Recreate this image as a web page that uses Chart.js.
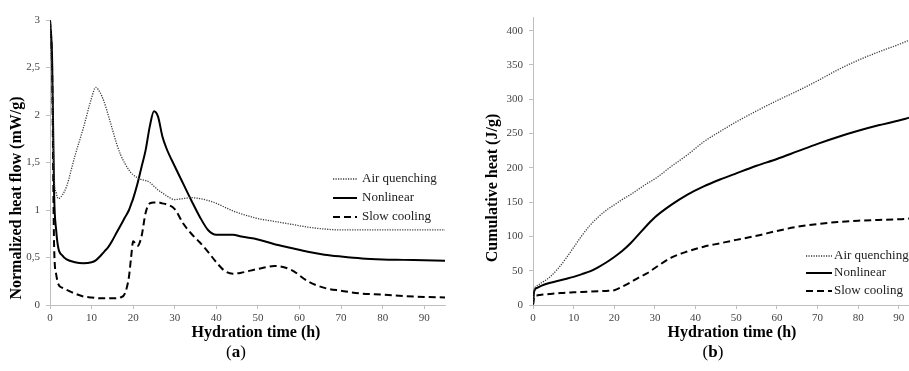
<!DOCTYPE html>
<html>
<head>
<meta charset="utf-8">
<script src="https://cdn.jsdelivr.net/npm/chart.js@4.4.1/dist/chart.umd.min.js"></script>
<style>
  body { margin: 0; background: #fff; }
  #wrap { position: relative; width: 909px; height: 371px; overflow: hidden; }
  #chartA { position: absolute; left: 0; top: 0; }
  #chartB { position: absolute; left: 460px; top: 0; }
</style>
</head>
<body>
<div id="wrap">
  <canvas id="chartA" width="460" height="371"></canvas>
  <canvas id="chartB" width="449" height="371"></canvas>
</div>
<script>
// (a) heat flow, mW/g
const hoursA = [0, 0.5, 1, 1.5, 2, 3, 4, 6, 8, 10, 11, 12, 13, 14, 15, 16, 17, 18, 19, 19.5,
  20, 21, 22, 23, 24, 25, 26, 27, 28, 30, 32, 34, 36, 38, 40, 42, 44, 46, 50, 54,
  58, 62, 66, 70, 75, 80, 85, 90, 95];
const airA = [3, 2.3, 1.35, 1.18, 1.12, 1.16, 1.25, 1.57, 1.86, 2.18, 2.29, 2.24, 2.14, 2.0, 1.85, 1.7, 1.58, 1.49, 1.42, 1.39,
  1.37, 1.34, 1.32, 1.31, 1.29, 1.25, 1.21, 1.18, 1.15, 1.11, 1.12, 1.13, 1.12, 1.1, 1.07, 1.03, 0.99, 0.96, 0.91, 0.88,
  0.85, 0.82, 0.8, 0.79, 0.79, 0.79, 0.79, 0.79, 0.79];
const nonlinA = [3, 2.6, 1.15, 0.78, 0.6, 0.52, 0.48, 0.45, 0.44, 0.45, 0.47, 0.51, 0.56, 0.61, 0.68, 0.76, 0.84, 0.92, 1.0, 1.06,
  1.12, 1.27, 1.45, 1.63, 1.88, 2.04, 1.98, 1.78, 1.65, 1.46, 1.28, 1.1, 0.93, 0.79, 0.74, 0.74, 0.74, 0.72, 0.69, 0.64,
  0.6, 0.56, 0.53, 0.51, 0.49, 0.48, 0.475, 0.47, 0.465];
const slowA = [3, 2.5, 0.6, 0.32, 0.22, 0.18, 0.16, 0.12, 0.09, 0.08, 0.075, 0.07, 0.07, 0.07, 0.07, 0.07, 0.08, 0.12, 0.3, 0.5,
  0.67, 0.62, 0.72, 0.97, 1.07, 1.08, 1.08, 1.07, 1.06, 1.01, 0.86, 0.75, 0.66, 0.56, 0.45, 0.36, 0.33, 0.34, 0.38, 0.41,
  0.37, 0.25, 0.18, 0.15, 0.12, 0.11, 0.095, 0.085, 0.08];

// (b) cumulative heat, J/g
const hoursB = [0, 0.3, 1, 2, 4, 6, 8, 10, 12, 14, 16, 18, 20, 22, 24, 26, 28, 30, 34, 38,
  42, 46, 50, 55, 60, 65, 70, 75, 80, 85, 90, 92.5];
const airB = [0, 22, 28, 32, 40, 52, 67, 84, 101, 116, 128, 138, 146, 154, 161, 169, 177, 184, 202, 219,
  238, 253, 267, 283, 298, 312, 327, 343, 357, 369, 380, 386];
const nonlinB = [0, 20, 25, 28, 32, 35, 38, 41, 45, 49, 55, 62, 70, 79, 90, 103, 116, 128, 146, 161,
  173, 183, 192, 203, 213, 224, 235, 245, 254, 262, 269, 273];
const slowB = [0, 12, 14, 15, 16, 17, 18, 18.5, 19, 19.5, 20, 20.5, 21.5, 27, 33, 40, 46, 54, 69, 78,
  85, 90, 95, 101, 108, 114, 118, 121, 123, 124, 125, 126];

const seriesNames = ['Air quenching', 'Nonlinear', 'Slow cooling'];

Chart.defaults.font.family = "'Liberation Serif', serif";
const axisGray = '#bfbfbf';
const tickColor = '#444';

function pts(xs, ys) {
  return xs.map((x, i) => ({ x: x, y: ys[i] }));
}

function makeSets(xs, a, n, s) {
  return [
    { label: seriesNames[0], data: pts(xs, a), borderColor: '#3a3a3a', borderWidth: 1.3, borderDash: [1.2, 1.3] },
    { label: seriesNames[1], data: pts(xs, n), borderColor: '#000', borderWidth: 2 },
    { label: seriesNames[2], data: pts(xs, s), borderColor: '#000', borderWidth: 2, borderDash: [7, 4] }
  ].map(d => Object.assign(d, { pointRadius: 0, fill: false, cubicInterpolationMode: 'monotone' }));
}

// titles, legend and panel letter drawn on top
const figText = {
  id: 'figText',
  afterDraw(chart, args, o) {
    const ctx = chart.ctx;
    ctx.save();
    ctx.fillStyle = '#000';
    ctx.textBaseline = 'middle';

    // x title
    ctx.font = "bold 16px 'Liberation Serif'";
    ctx.textAlign = 'center';
    ctx.fillText('Hydration time (h)', o.xTitle[0], o.xTitle[1]);

    // y title
    ctx.save();
    ctx.translate(o.yTitle[0], o.yTitle[1]);
    ctx.rotate(-Math.PI / 2);
    ctx.fillText(o.yText, 0, 0);
    ctx.restore();

    // legend
    ctx.textAlign = 'left';
    ctx.font = "13px 'Liberation Serif'";
    chart.data.datasets.forEach((ds, i) => {
      const y = o.legY[i];
      ctx.save();
      ctx.strokeStyle = ds.borderColor;
      ctx.lineWidth = ds.borderWidth;
      ctx.setLineDash(ds.borderDash || []);
      ctx.beginPath();
      ctx.moveTo(o.legX[0], y);
      ctx.lineTo(o.legX[1], y);
      ctx.stroke();
      ctx.restore();
      ctx.fillStyle = '#222';
      ctx.fillText(ds.label, o.legX[2], y);
    });

    // panel letter "(a)" with bold letter
    ctx.fillStyle = '#000';
    const p1 = '(', p2 = o.letter, p3 = ')';
    ctx.font = "17px 'Liberation Serif'";
    const w1 = ctx.measureText(p1).width, w3 = ctx.measureText(p3).width;
    ctx.font = "bold 17px 'Liberation Serif'";
    const w2 = ctx.measureText(p2).width;
    let x = o.panel[0] - (w1 + w2 + w3) / 2;
    ctx.font = "17px 'Liberation Serif'";
    ctx.fillText(p1, x, o.panel[1]);
    ctx.font = "bold 17px 'Liberation Serif'";
    ctx.fillText(p2, x + w1, o.panel[1]);
    ctx.font = "17px 'Liberation Serif'";
    ctx.fillText(p3, x + w1 + w2, o.panel[1]);
    ctx.restore();
  }
};

function axisX(max) {
  return {
    type: 'linear', min: 0, max: max,
    afterBuildTicks: s => { s.ticks = s.ticks.filter(t => t.value % 10 === 0); },
    afterFit: s => { s.height = 66; },
    ticks: { stepSize: 10, includeBounds: false, color: tickColor, font: { size: 11 }, padding: 3, maxRotation: 0, autoSkip: false },
    grid: { drawOnChartArea: false, tickLength: 4, color: axisGray },
    border: { color: axisGray }
  };
}

function axisY(max, step, width, fmt) {
  return {
    min: 0, max: max,
    afterBuildTicks: s => { s.ticks = s.ticks.filter(t => Math.abs(t.value / step - Math.round(t.value / step)) < 1e-6); },
    afterFit: s => { s.width = width; },
    ticks: { stepSize: step, includeBounds: false, color: tickColor, font: { size: 11 }, padding: 6, callback: fmt },
    grid: { drawOnChartArea: false, tickLength: 4, color: axisGray },
    border: { color: axisGray }
  };
}

new Chart(document.getElementById('chartA'), {
  type: 'line',
  data: { datasets: makeSets(hoursA, airA, nonlinA, slowA) },
  options: {
    responsive: false,
    animation: false,
    layout: { padding: { left: 0, right: 15, top: 20, bottom: 0 } },
    plugins: {
      legend: { display: false },
      tooltip: { enabled: false },
      figText: {
        xTitle: [256, 333], yTitle: [17, 198], yText: 'Normalized heat flow (mW/g)',
        legX: [333, 357, 362], legY: [179, 198, 217],
        letter: 'a', panel: [236, 353]
      }
    },
    scales: {
      x: axisX(95),
      y: axisY(3, 0.5, 50, v => String(v).replace('.', ','))
    }
  },
  plugins: [figText]
});

new Chart(document.getElementById('chartB'), {
  type: 'line',
  data: { datasets: makeSets(hoursB, airB, nonlinB, slowB) },
  options: {
    responsive: false,
    animation: false,
    layout: { padding: { left: 0, right: 0, top: 17, bottom: 0 } },
    plugins: {
      legend: { display: false },
      tooltip: { enabled: false },
      figText: {
        xTitle: [272, 333], yTitle: [33, 188], yText: 'Cumulative heat (J/g)',
        legX: [346, 372, 374], legY: [256, 273, 291],
        letter: 'b', panel: [253, 353]
      }
    },
    scales: {
      x: axisX(92.5),
      y: axisY(420, 50, 73)
    }
  },
  plugins: [figText]
});
</script>
</body>
</html>
